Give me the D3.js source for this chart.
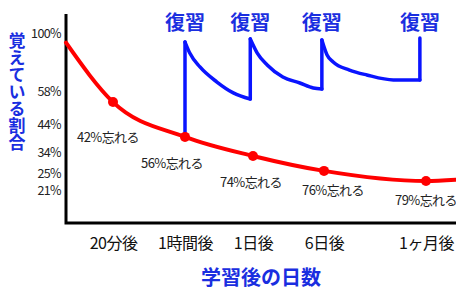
<!DOCTYPE html>
<html>
<head>
<meta charset="utf-8">
<script src="https://cdn.jsdelivr.net/npm/d3@7"></script>
<style>
  body { margin: 0; background: #fff; }
  text { font-family: "Noto Sans CJK JP", sans-serif; }
</style>
</head>
<body>
<script>
// forgetting curve data (steps: 0 = start, 1..5 = categories)
var xLabels = ["20分後", "1時間後", "1日後", "6日後", "1ヶ月後"];
var yTicks = [100, 58, 44, 34, 25, 21];

var redSteps = [0, 1, 2, 3, 4, 5, 5.29];
var redValues = [93, 53.3, 39.4, 32.3, 25.9, 23.1, 23.4];
var dotSteps = [1, 2, 3, 4, 5];
var forgetLabels = ["42%忘れる", "56%忘れる", "74%忘れる", "76%忘れる", "79%忘れる"];

var reviewSteps = [2, 2.96, 3.97, 4.94];
var reviewPeaks = [93.5, 95.7, 94.9, 96.4];
var decay1 = [[2, 93.5], [2.07, 85.5], [2.22, 75.4], [2.47, 64.5], [2.71, 57.2], [2.96, 54.6]];
var decay2 = [[2.96, 95.7], [3.06, 85.5], [3.2, 76.8], [3.42, 68.1], [3.66, 63.8], [3.85, 60.2], [3.97, 59.4]];
var decay3 = [[3.97, 94.9], [4.03, 84.1], [4.09, 79], [4.25, 73.2], [4.42, 69.6], [4.68, 66], [4.94, 66]];

var width = 456, height = 290;
var blue = "#0a14ff", textBlue = "#1a2ee0", red = "#ff0000";

var svg = d3.select("body").append("svg")
  .attr("width", width)
  .attr("height", height);

// hand drawn chart, so the scales are piecewise
var x = d3.scaleLinear()
  .domain([0, 1, 2, 3, 4, 5])
  .range([66, 113, 185, 253, 324, 426]);

var y = d3.scaleLinear()
  .domain(yTicks)
  .range([33, 91, 124, 152, 173, 190]);

// axes labels (no tick marks)
var yAxis = svg.append("g")
  .attr("transform", "translate(61,0)")
  .call(d3.axisLeft(y).tickValues(yTicks).tickSize(0).tickPadding(0).tickFormat(d => d + "%"));
yAxis.select(".domain").remove();
yAxis.selectAll("text")
  .style("font-family", "'Noto Sans CJK JP', sans-serif")
  .style("font-size", "12.5px")
  .style("letter-spacing", "-0.6px")
  .attr("fill", "#222");

var xAxis = svg.append("g")
  .attr("transform", "translate(0,238)")
  .call(d3.axisBottom(x).tickValues(dotSteps).tickSize(0).tickPadding(0).tickFormat((d, i) => xLabels[i]));
xAxis.select(".domain").remove();
xAxis.selectAll("text")
  .style("font-family", "'Noto Sans CJK JP', sans-serif")
  .style("font-size", "16px")
  .style("letter-spacing", "-0.5px")
  .attr("fill", "#111");

// axis lines
svg.append("path")
  .attr("d", "M66,14V223H456")
  .attr("fill", "none")
  .attr("stroke", "#000")
  .attr("stroke-width", 3);

// blue review curve
var vertLine = d3.line().x(d => x(d[0])).y(d => y(d[1]));
var decayLine = d3.line().x(d => x(d[0])).y(d => y(d[1])).curve(d3.curveMonotoneX);

var decays = [decay1, decay2, decay3];
var verticals = reviewSteps.map(function(s, i) {
  var from = i == 0 ? redValues[2] : decays[i - 1][decays[i - 1].length - 1][1];
  return [[s, from], [s, reviewPeaks[i]]];
});

svg.selectAll(".vert")
  .data(verticals)
  .enter().append("path")
  .attr("class", "vert")
  .attr("d", vertLine)
  .attr("fill", "none")
  .attr("stroke", blue)
  .attr("stroke-width", 3.5)
  .attr("stroke-linecap", "round");

svg.selectAll(".decay")
  .data(decays)
  .enter().append("path")
  .attr("class", "decay")
  .attr("d", decayLine)
  .attr("fill", "none")
  .attr("stroke", blue)
  .attr("stroke-width", 3.5)
  .attr("stroke-linecap", "round")
  .attr("stroke-linejoin", "round");

svg.selectAll(".review")
  .data(reviewSteps)
  .enter().append("text")
  .attr("class", "review")
  .attr("x", d => x(d))
  .attr("y", 30)
  .attr("text-anchor", "middle")
  .attr("font-size", 20)
  .attr("font-weight", "bold")
  .attr("fill", textBlue)
  .text("復習");

// red forgetting curve
var redData = redSteps.map((s, i) => [s, redValues[i]]);
svg.append("path")
  .datum(redData)
  .attr("d", decayLine)
  .attr("fill", "none")
  .attr("stroke", red)
  .attr("stroke-width", 4)
  .attr("stroke-linecap", "round");

svg.selectAll(".dot")
  .data(dotSteps)
  .enter().append("circle")
  .attr("class", "dot")
  .attr("cx", d => x(d))
  .attr("cy", d => y(redValues[d]))
  .attr("r", 5)
  .attr("fill", red);

// forget labels
var labelPos = [[108, 142], [172, 168], [251, 187], [333, 195], [426, 205]];
svg.selectAll(".forget")
  .data(forgetLabels)
  .enter().append("text")
  .attr("class", "forget")
  .attr("x", (d, i) => labelPos[i][0])
  .attr("y", (d, i) => labelPos[i][1])
  .attr("text-anchor", "middle")
  .attr("font-size", 13)
  .attr("letter-spacing", "-0.6px")
  .attr("fill", "#222")
  .text(d => d);

// titles
svg.append("text")
  .attr("x", 17)
  .attr("y", 92)
  .attr("text-anchor", "middle")
  .style("writing-mode", "vertical-rl")
  .attr("font-size", 17)
  .attr("font-weight", "bold")
  .attr("fill", textBlue)
  .text("覚えている割合");

svg.append("text")
  .attr("x", 261)
  .attr("y", 285)
  .attr("text-anchor", "middle")
  .attr("font-size", 20)
  .attr("font-weight", "bold")
  .attr("fill", textBlue)
  .text("学習後の日数");
</script>
</body>
</html>
